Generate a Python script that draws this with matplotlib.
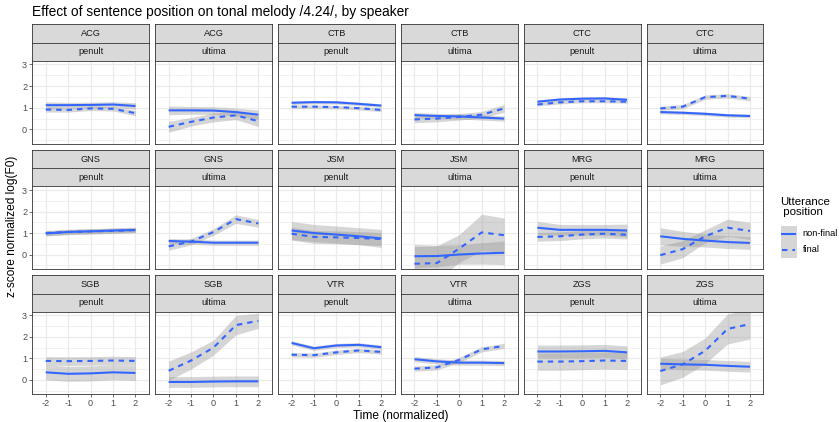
import matplotlib
matplotlib.use("Agg")
import matplotlib.pyplot as plt
from matplotlib.lines import Line2D
from matplotlib.patches import Rectangle

plt.rcParams['font.family'] = ['Liberation Sans', 'DejaVu Sans']
plt.rcParams['axes.unicode_minus'] = False

speakers = ["ACG", "CTB", "CTC", "GNS", "JSM", "MRG", "SGB", "VTR", "ZGS"]
positions = ["penult", "ultima"]
time = [-2, -1, 0, 1, 2]

# one row per speaker/position panel, in facet order
nonfinal_mean = [
    [1.12, 1.12, 1.13, 1.15, 1.08],
    [0.88, 0.88, 0.87, 0.80, 0.68],
    [1.23, 1.26, 1.25, 1.18, 1.10],
    [0.66, 0.62, 0.60, 0.55, 0.50],
    [1.28, 1.38, 1.42, 1.43, 1.37],
    [0.80, 0.77, 0.72, 0.65, 0.62],
    [0.98, 1.05, 1.08, 1.12, 1.14],
    [0.63, 0.60, 0.55, 0.55, 0.55],
    [1.12, 1.00, 0.93, 0.85, 0.75],
    [-0.08, -0.07, 0.00, 0.05, 0.08],
    [1.25, 1.15, 1.15, 1.15, 1.12],
    [0.85, 0.73, 0.65, 0.58, 0.54],
    [0.35, 0.28, 0.30, 0.35, 0.32],
    [-0.10, -0.10, -0.08, -0.07, -0.07],
    [1.72, 1.47, 1.60, 1.63, 1.52],
    [0.96, 0.86, 0.80, 0.80, 0.78],
    [1.32, 1.32, 1.33, 1.35, 1.28],
    [0.75, 0.72, 0.70, 0.65, 0.61],
]
nonfinal_ci = [
    [0.15, 0.13, 0.13, 0.13, 0.15],
    [0.20, 0.18, 0.18, 0.18, 0.22],
    [0.08, 0.08, 0.08, 0.08, 0.08],
    [0.12, 0.12, 0.12, 0.12, 0.12],
    [0.07, 0.07, 0.07, 0.07, 0.07],
    [0.08, 0.08, 0.08, 0.08, 0.08],
    [0.12, 0.12, 0.12, 0.12, 0.12],
    [0.12, 0.12, 0.12, 0.12, 0.12],
    [0.42, 0.40, 0.40, 0.40, 0.42],
    [0.55, 0.50, 0.45, 0.50, 0.55],
    [0.30, 0.25, 0.25, 0.25, 0.30],
    [0.40, 0.35, 0.30, 0.30, 0.30],
    [0.35, 0.35, 0.35, 0.35, 0.35],
    [0.25, 0.25, 0.25, 0.25, 0.25],
    [0.10, 0.10, 0.10, 0.10, 0.10],
    [0.12, 0.12, 0.12, 0.12, 0.12],
    [0.30, 0.30, 0.30, 0.30, 0.30],
    [0.25, 0.25, 0.25, 0.25, 0.25],
]
final_mean = [
    [0.92, 0.90, 0.97, 0.95, 0.75],
    [0.12, 0.35, 0.55, 0.65, 0.38],
    [1.05, 1.05, 1.03, 0.98, 0.90],
    [0.46, 0.50, 0.58, 0.68, 0.97],
    [1.15, 1.25, 1.30, 1.30, 1.28],
    [0.97, 1.05, 1.49, 1.55, 1.42],
    [1.00, 1.05, 1.08, 1.10, 1.14],
    [0.38, 0.60, 1.05, 1.65, 1.45],
    [0.97, 0.82, 0.80, 0.77, 0.72],
    [-0.43, -0.40, 0.28, 1.03, 0.90],
    [0.82, 0.85, 0.93, 0.97, 0.92],
    [-0.03, 0.25, 0.85, 1.25, 1.10],
    [0.88, 0.87, 0.88, 0.90, 0.88],
    [0.42, 0.90, 1.50, 2.55, 2.75],
    [1.17, 1.15, 1.28, 1.37, 1.30],
    [0.52, 0.58, 0.93, 1.42, 1.58],
    [0.85, 0.85, 0.87, 0.90, 0.88],
    [0.41, 0.72, 1.35, 2.37, 2.60],
]
final_ci = [
    [0.12, 0.10, 0.10, 0.10, 0.12],
    [0.25, 0.20, 0.20, 0.20, 0.25],
    [0.08, 0.08, 0.08, 0.08, 0.08],
    [0.15, 0.15, 0.15, 0.15, 0.18],
    [0.07, 0.07, 0.07, 0.07, 0.07],
    [0.10, 0.10, 0.10, 0.10, 0.10],
    [0.12, 0.12, 0.12, 0.12, 0.12],
    [0.18, 0.15, 0.15, 0.20, 0.18],
    [0.30, 0.30, 0.30, 0.30, 0.30],
    [0.80, 0.80, 0.65, 0.85, 0.80],
    [0.20, 0.20, 0.20, 0.20, 0.20],
    [0.42, 0.40, 0.30, 0.40, 0.40],
    [0.20, 0.20, 0.20, 0.20, 0.20],
    [0.45, 0.40, 0.35, 0.45, 0.35],
    [0.10, 0.10, 0.10, 0.10, 0.10],
    [0.12, 0.12, 0.12, 0.12, 0.12],
    [0.40, 0.40, 0.40, 0.40, 0.40],
    [0.65, 0.60, 0.60, 0.70, 0.70],
]

W, H = 839, 422
BLUE = "#3366FF"
RIBBON = "#999999"
GRID = "#EBEBEB"
DARK = "#333333"
SMALL = 6.6

fig = plt.figure(figsize=(W / 100, H / 100), dpi=100)


def px_axes(x0, y0, x1, y1, **kw):
    # axes placed by pixel box (top-left origin)
    return fig.add_axes([x0 / W, 1 - y1 / H, (x1 - x0) / W, (y1 - y0) / H], **kw)


col_left = [32.3 + 122.9 * k for k in range(6)]
panel_w = 116.6
strip_top = [24.3, 150.0, 275.3]
strip_h = 18.2
panel_bottom = [144.0, 269.0, 394.3]

panel_names = [(s, p) for s in speakers for p in positions]

for i, (spk, pos) in enumerate(panel_names):
    r, c = divmod(i, 6)
    x0 = col_left[c]
    x1 = x0 + panel_w
    t = strip_top[r]

    # two strip headers
    for j, label in enumerate([spk, pos]):
        sa = px_axes(x0, t + j * strip_h, x1, t + (j + 1) * strip_h)
        sa.set_facecolor("#D9D9D9")
        sa.set_xticks([])
        sa.set_yticks([])
        for sp in sa.spines.values():
            sp.set_color(DARK)
            sp.set_linewidth(0.6)
        sa.text(0.5, 0.5, label, ha="center", va="center", fontsize=SMALL,
                color="#1A1A1A", transform=sa.transAxes)

    ax = px_axes(x0, t + 2 * strip_h, x1, panel_bottom[r])
    ax.set_xlim(-2.6, 2.6)
    ax.set_ylim(-0.675, 3.175)
    ax.set_xticks(time)
    ax.set_yticks([0, 1, 2, 3])
    ax.set_yticks([-0.5, 0.5, 1.5, 2.5], minor=True)
    ax.grid(True, which="major", color=GRID, lw=0.9)
    ax.grid(True, which="minor", axis="y", color=GRID, lw=0.5)
    ax.set_axisbelow(True)
    for sp in ax.spines.values():
        sp.set_color(DARK)
        sp.set_linewidth(0.6)
    ax.tick_params(which="major", length=2.2, width=0.5, color=DARK,
                   labelsize=SMALL, labelcolor="#4D4D4D", pad=1.5)
    ax.tick_params(which="minor", length=0)
    if c != 0:
        ax.tick_params(axis="y", labelleft=False, length=0)
    if r != 2:
        ax.tick_params(axis="x", labelbottom=False, length=0)

    nf = nonfinal_mean[i]
    fm = final_mean[i]
    ax.fill_between(time, [m - e for m, e in zip(nf, nonfinal_ci[i])],
                    [m + e for m, e in zip(nf, nonfinal_ci[i])],
                    color=RIBBON, alpha=0.4, lw=0)
    ax.fill_between(time, [m - e for m, e in zip(fm, final_ci[i])],
                    [m + e for m, e in zip(fm, final_ci[i])],
                    color=RIBBON, alpha=0.4, lw=0)
    ax.plot(time, nf, color=BLUE, lw=1.5, solid_capstyle="butt")
    ax.plot(time, fm, color=BLUE, lw=1.5, ls=(0, (2.6, 2.4)))

fig.text(32.5 / W, 1 - 12 / H, "Effect of sentence position on tonal melody /4.24/, by speaker",
         ha="left", va="center", fontsize=9.9, color="black")
fig.text(401 / W, 1 - 415.5 / H, "Time (normalized)", ha="center", va="center",
         fontsize=8.6, color="black")
fig.text(12.5 / W, 1 - 226 / H, "z-score normalized log(F0)", ha="center", va="center",
         rotation=90, fontsize=8.6, color="black")

# legend
fig.text(780.5 / W, 1 - 207 / H, "Utterance\n position", ha="left", va="center",
         fontsize=8.25, color="black", linespacing=1.0)
lg = px_axes(780.7, 226, 796.7, 258)
lg.set_xlim(0, 1)
lg.set_ylim(0, 2)
lg.axis("off")
lg.add_patch(Rectangle((0, 0), 1, 2, facecolor="#D6D6D6", edgecolor="none"))
lg.add_line(Line2D([0.1, 0.9], [1.5, 1.5], color=BLUE, lw=1.5))
lg.add_line(Line2D([0.1, 0.9], [0.5, 0.5], color=BLUE, lw=1.5, ls=(0, (2.6, 2.4))))
fig.text(802.5 / W, 1 - 234 / H, "non-final", ha="left", va="center", fontsize=SMALL)
fig.text(802.5 / W, 1 - 250 / H, "final", ha="left", va="center", fontsize=SMALL)

fig.savefig("out.png", dpi=100)
